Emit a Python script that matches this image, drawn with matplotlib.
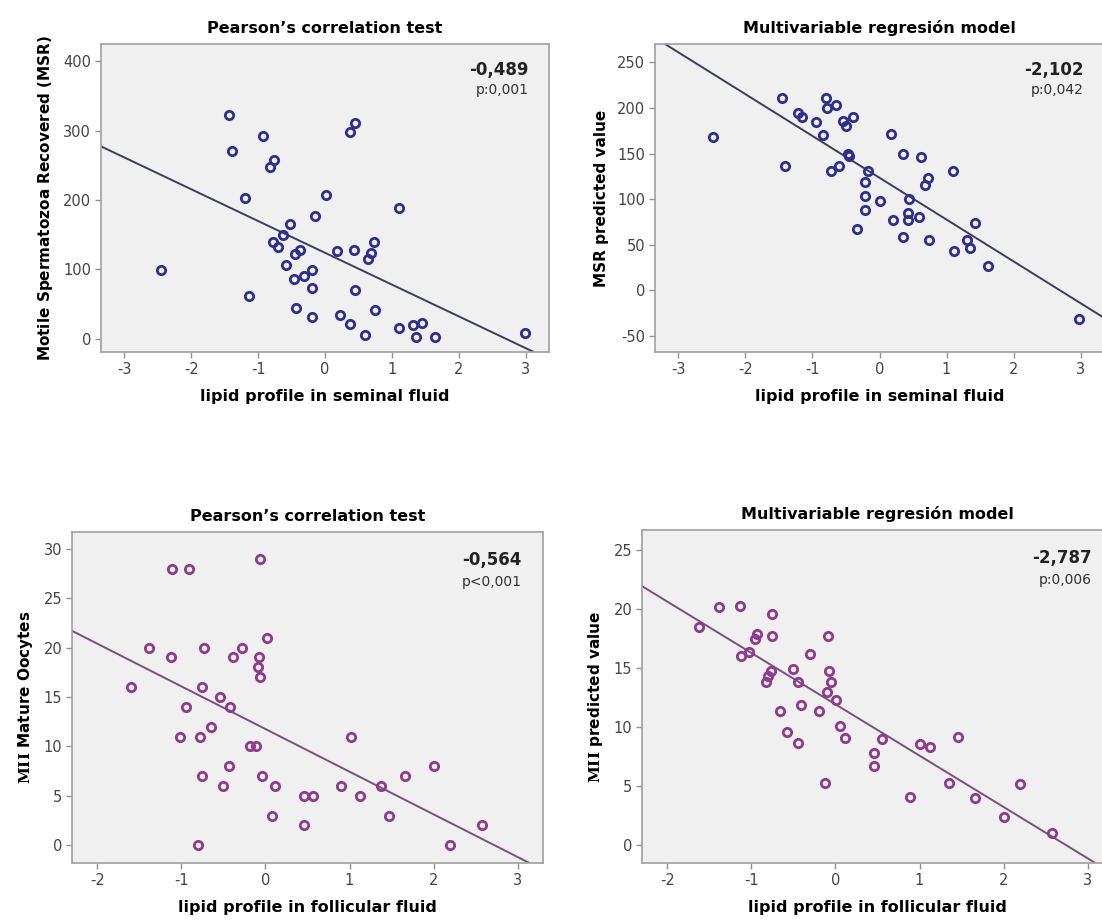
'''Lipid profile vs MSR / MII scatter panels (SPSS style).'''

import matplotlib
matplotlib.use("Agg")
import matplotlib.pyplot as plt

plt.rcParams['font.family'] = ['DejaVu Sans']
plt.rcParams['axes.unicode_minus'] = False
plt.rcParams['mathtext.fontset'] = 'dejavuserif'

# --- seminal fluid, Pearson (MSR) ---
sem_x = [-1.44, -1.39, -0.92, -0.76, -0.83, -1.20, 0.37, 0.45, 0.02, -0.15,
         1.11, -0.53, -0.63, -0.78, -0.70, -0.38, -0.45, 0.18, 0.44, 0.74,
         0.69, 0.64, -0.59, -2.46, -0.19, -0.31, -0.47, -0.20, 0.45, -1.13,
         -0.44, -0.20, 0.75, 0.22, 0.37, 0.60, 1.11, 1.32, 1.45, 1.36,
         1.64, 2.99]
msr = [323, 271, 293, 258, 247, 203, 298, 311, 208, 177,
       188, 166, 150, 140, 133, 128, 122, 127, 128, 140,
       123, 115, 106, 99, 99, 90, 86, 73, 70, 62,
       45, 32, 41, 35, 22, 6, 16, 20, 23, 2,
       3, 9]

# --- seminal fluid, multivariable model (MSR predicted) ---
sem_x2 = [-2.48, -1.46, -1.41, -1.22, -1.15, -0.95, -0.85, -0.80, -0.78, -0.65,
          -0.72, -0.60, -0.55, -0.50, -0.40, -0.47, -0.46, -0.17, -0.22, -0.21,
          -0.22, 0.00, -0.34, 0.17, 0.35, 0.62, 0.73, 0.68, 1.10, 0.44,
          0.43, 0.42, 0.59, 0.20, 0.35, 0.74, 1.11, 1.30, 1.35, 1.43,
          1.62, 2.98]
msr_pred = [168, 211, 136, 194, 190, 184, 170, 211, 200, 203,
            131, 136, 186, 180, 190, 150, 147, 131, 119, 103,
            88, 98, 67, 171, 149, 146, 123, 115, 131, 100,
            85, 77, 80, 77, 58, 55, 43, 55, 46, 74,
            27, -31]

# --- follicular fluid, Pearson (MII) ---
fol_x = [-1.11, -0.91, -0.07, -1.38, -0.73, -0.28, 0.02, -1.12, -0.39, -0.08,
         -0.09, -0.07, -1.60, -0.76, -0.54, -0.42, -0.95, -0.65, -1.02, -0.78,
         1.02, -0.18, -0.11, -0.43, -0.75, -0.04, 1.66, 2.00, -0.50, 0.11,
         0.90, 1.37, 0.46, 0.57, 1.13, 0.08, 1.47, 0.46, 2.57, -0.80,
         2.20]
mii = [28, 28, 29, 20, 20, 20, 21, 19, 19, 19,
       18, 17, 16, 16, 15, 14, 14, 12, 11, 11,
       11, 10, 10, 8, 7, 7, 7, 8, 6, 6,
       6, 6, 5, 5, 5, 3, 3, 2, 2, 0,
       0]

# --- follicular fluid, multivariable model (MII predicted) ---
fol_x2 = [-1.62, -1.39, -1.14, -0.75, -1.12, -1.03, -0.96, -0.93, -0.76, -0.77,
          -0.80, -0.83, -0.30, -0.51, -0.44, -0.09, -0.08, -0.05, -0.10, 0.01,
          -0.66, -0.41, -0.20, -0.58, -0.44, 0.05, 0.11, 0.55, 0.46, 0.46,
          -0.12, 1.00, 1.12, 1.46, 1.35, 0.89, 1.66, 2.20, 2.00, 2.58]
mii_pred = [18.5, 20.2, 20.3, 19.6, 16.0, 16.4, 17.5, 17.9, 17.7, 14.8,
            14.3, 13.8, 16.2, 14.9, 13.8, 17.7, 14.8, 13.8, 13.0, 12.3,
            11.4, 11.9, 11.4, 9.6, 8.7, 10.1, 9.1, 9.0, 7.8, 6.7,
            5.3, 8.6, 8.3, 9.2, 5.3, 4.1, 4.0, 5.2, 2.4, 1.0]

# fit lines (intercept, slope)
fit_msr = (124.0, -45.8)
fit_msr_pred = (123.4, -45.8)
fit_mii = (11.76, -4.32)
fit_mii_pred = (11.94, -4.35)

coef_labels = ["-0,489", "-2,102", "-0,564", "-2,787"]
p_labels = ["p:0,001", "p:0,042", "p<0,001", "p:0,006"]

W, H = 1102, 922


def px_axes(fig, left, top, right, bottom):
    return fig.add_axes([left / W, 1 - bottom / H, (right - left) / W, (bottom - top) / H])


def draw_panel(ax, x, y, fit, mcolor, lcolor, title, xlabel, ylabel,
               coef, pval, xlim, ylim, yticks, xticks):
    ax.set_facecolor('#f0f0f0')
    ax.plot(x, y, 'o', mfc='none', mec=mcolor, mew=2.0, ms=6.0, zorder=3)
    ax.axline((0, fit[0]), slope=fit[1], color=lcolor, lw=1.4, zorder=2)
    ax.set_xlim(*xlim)
    ax.set_ylim(*ylim)
    ax.set_xticks(xticks)
    ax.set_yticks(yticks)
    for s in ax.spines.values():
        s.set_color('#a0a0a0')
        s.set_linewidth(1.2)
    ax.tick_params(direction='out', length=4, width=1, color='#909090',
                   labelsize=10.5, labelcolor='#444444', pad=3)
    ax.set_title(title, fontsize=11.5, fontweight='bold', pad=8)
    ax.set_xlabel(xlabel, fontsize=11.5, fontweight='bold', labelpad=9)
    ax.set_ylabel(ylabel, fontsize=11, fontweight='bold', labelpad=6)
    ax.text(0.955, 0.915, coef, transform=ax.transAxes, ha='right', va='center',
            fontsize=12, fontweight='bold', color='#222222')
    ax.text(0.955, 0.85, pval, transform=ax.transAxes, ha='right', va='center',
            fontsize=10, color='#333333')


fig = plt.figure(figsize=(W / 100, H / 100), dpi=100)

navy = '#2e2f8c'
navy_line = '#3b3d5e'
purple = '#8e3a8e'
purple_line = '#7a4f7e'

ax1 = px_axes(fig, 101, 44, 549, 352)
draw_panel(ax1, sem_x, msr, fit_msr, navy, navy_line,
           "Pearson\u2019s correlation test", "lipid profile in seminal fluid",
           r"Motile Spermatozoa Recovered $\mathregular{(MSR)}$", coef_labels[0], p_labels[0],
           (-3.35, 3.35), (-19, 425), [0, 100, 200, 300, 400], range(-3, 4))

ax2 = px_axes(fig, 655, 44, 1104, 352)
draw_panel(ax2, sem_x2, msr_pred, fit_msr_pred, navy, navy_line,
           "Multivariable regresi\u00f3n model", "lipid profile in seminal fluid",
           "MSR predicted value", coef_labels[1], p_labels[1],
           (-3.35, 3.35), (-67.5, 270), [-50, 0, 50, 100, 150, 200, 250], range(-3, 4))

ax3 = px_axes(fig, 72, 532, 543, 863)
draw_panel(ax3, fol_x, mii, fit_mii, purple, purple_line,
           "Pearson\u2019s correlation test", "lipid profile in follicular fluid",
           r"$\mathbf{MII}$ Mature Oocytes", coef_labels[2], p_labels[2],
           (-2.30, 3.30), (-1.8, 31.7), [0, 5, 10, 15, 20, 25, 30], range(-2, 4))

ax4 = px_axes(fig, 642, 530, 1113, 863)
draw_panel(ax4, fol_x2, mii_pred, fit_mii_pred, purple, purple_line,
           "Multivariable regresi\u00f3n model", "lipid profile in follicular fluid",
           r"$\mathbf{MII}$ predicted value", coef_labels[3], p_labels[3],
           (-2.30, 3.30), (-1.5, 26.7), [0, 5, 10, 15, 20, 25], range(-2, 4))

fig.savefig("out.png", dpi=100)
